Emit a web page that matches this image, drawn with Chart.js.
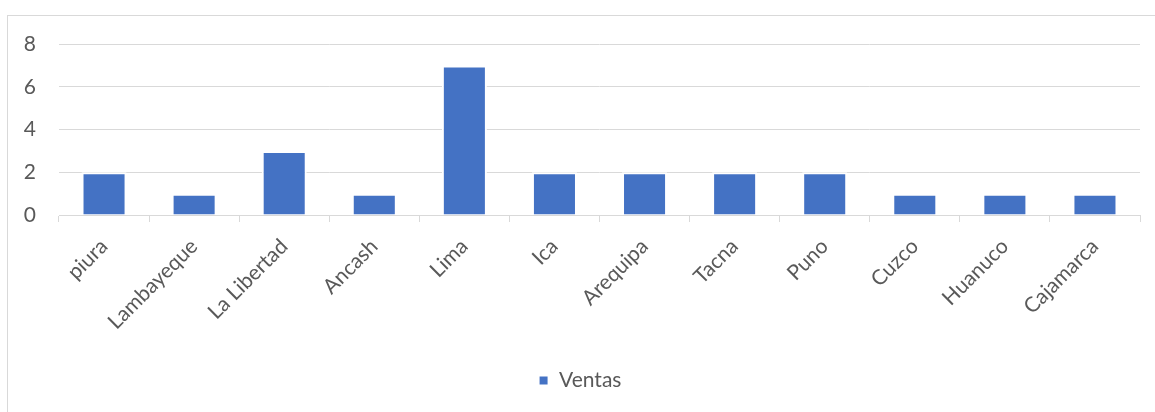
<!DOCTYPE html>
<html>
<head>
<meta charset="utf-8">
<script src="https://cdn.jsdelivr.net/npm/chart.js@4"></script>
<style>
  html, body { margin: 0; padding: 0; background: #fff; overflow: hidden; }
  #frame {
    position: absolute; left: 7px; top: 15px;
    width: 1170px; height: 420px;
    border: 1px solid #d9d9d9;
  }
  #wrap { position: absolute; left: 0; top: 0; width: 1155px; height: 412px; }
</style>
</head>
<body>
<div id="frame"></div>
<div id="wrap"><canvas id="chart"></canvas></div>
<script>
// data
const regiones = ['piura', 'Lambayeque', 'La Libertad', 'Ancash', 'Lima', 'Ica',
                  'Arequipa', 'Tacna', 'Puno', 'Cuzco', 'Huanuco', 'Cajamarca'];
const ventas = [2, 1, 3, 1, 7, 2, 2, 2, 2, 1, 1, 1];
const yTicks = [0, 2, 4, 6, 8];

const fontFam = 'Lato, "Liberation Sans", sans-serif';
const textColor = '#595959';
const gridColor = '#d9d9d9';

const ctx = document.getElementById('chart').getContext('2d');
new Chart(ctx, {
    type: 'bar',
    data: {
        labels: regiones,
        datasets: [{
            label: 'Ventas',
            data: ventas,
            backgroundColor: '#4472C4',
            borderColor: '#ffffff',
            borderWidth: 2,
            barPercentage: 0.5,
            categoryPercentage: 1.0
        }]
    },
    options: {
        responsive: true,
        maintainAspectRatio: false,
        animation: false,
        layout: { padding: { left: 20, right: 15, top: 44, bottom: 11 } },
        plugins: {
            tooltip: { enabled: false },
            legend: {
                position: 'bottom',
                labels: {
                    color: textColor,
                    font: { family: fontFam, size: 21 },
                    boxWidth: 10,
                    boxHeight: 10,
                    padding: 9
                }
            }
        },
        scales: {
            x: {
                offset: true,
                grid: {
                    offset: true,
                    drawOnChartArea: false,
                    drawTicks: true,
                    tickLength: 7,
                    color: gridColor
                },
                border: { color: gridColor, width: 1 },
                ticks: {
                    color: textColor,
                    font: { family: fontFam, size: 21 },
                    minRotation: 45,
                    maxRotation: 45,
                    autoSkip: false,
                    padding: 12
                },
                afterFit: function(scale) { scale.height = 146; }
            },
            y: {
                min: 0,
                max: 8,
                afterBuildTicks: function(scale) {
                    scale.ticks = yTicks.map(v => ({ value: v }));
                },
                grid: { color: gridColor, lineWidth: 1, drawTicks: false },
                border: { display: false },
                ticks: {
                    color: textColor,
                    font: { family: fontFam, size: 21 },
                    padding: 23
                },
                afterFit: function(scale) { scale.width = 39; }
            }
        }
    }
});
</script>
</body>
</html>
